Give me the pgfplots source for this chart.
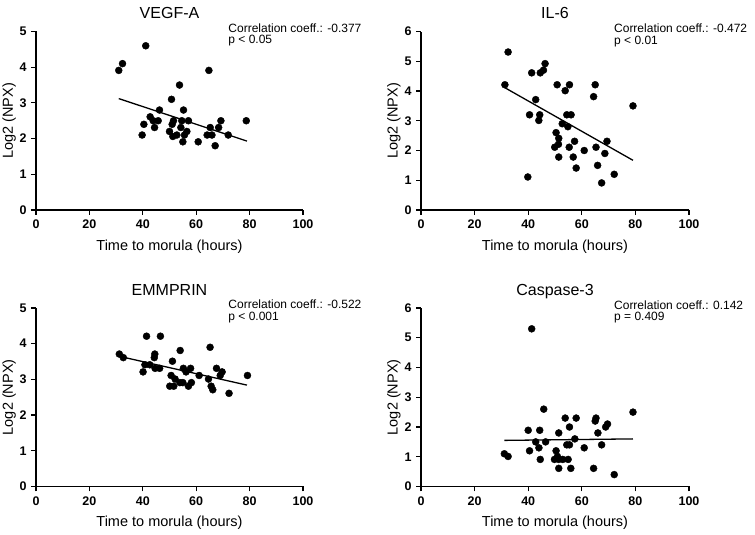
\documentclass[border=0pt]{standalone}
\usepackage{fontspec}
\setmainfont{Liberation Sans}
\usepackage{pgfplots}
\pgfplotsset{compat=1.18}

\pgfplotsset{
  panel/.style={
    scale only axis,
    anchor=origin,
    width=267pt, height=178.5pt,
    axis lines=left,
    axis line style={-, line width=1.3pt},
    xmin=0, xmax=100, ymin=0,
    xtick={0,20,...,100},
    tick align=outside,
    major tick length=5pt,
    tick style={line width=1.2pt, black},
    /pgf/number format/assume math mode=true,
    xticklabel={\textbf{\pgfmathprintnumber{\tick}}},
    yticklabel={\textbf{\pgfmathprintnumber{\tick}}},
    tick label style={font=\fontsize{12.5}{12.5}\selectfont},
    xticklabel style={yshift=-1.5pt},
    yticklabel style={xshift=-1pt},
    xlabel={Time to morula (hours)},
    ylabel={Log2 (NPX)},
    label style={font=\fontsize{14.5}{14.5}\selectfont},
    xlabel style={at={(axis description cs:0.5,-0.205)}, anchor=center},
    ylabel style={at={(axis description cs:-0.101,0.5)}, anchor=center},
    clip=false,
  },
  dots/.style={only marks, mark=*, mark size=3.5pt, black},
  fit/.style={black, line width=1.3pt, no marks},
}
\newcommand{\stat}[3]{%
  \node[anchor=base, inner sep=0pt, font=\fontsize{16}{16}\selectfont] at (rel axis cs:0.5,1) [yshift=12.7pt] {#1};
  \node[anchor=base west, inner sep=0pt, font=\fontsize{12}{12}\selectfont] at (rel axis cs:0.72,1) [yshift=-1pt] {#2};
  \node[anchor=base west, inner sep=0pt, font=\fontsize{12}{12}\selectfont] at (rel axis cs:0.72,1) [yshift=-12.5pt] {#3};
}

\begin{document}
\begin{tikzpicture}
\path[use as bounding box] (0,0) rectangle (755pt,535pt);

% VEGF-A
\begin{axis}[panel, at={(36pt,325pt)}, ymax=5, ytick={0,...,5}]
\addplot[dots] coordinates {
(31.0,3.91)(32.4,4.10)(41.1,4.60)(64.75,3.91)(53.75,3.50)(50.75,3.10)
(46.25,2.80)(55.25,2.80)(42.75,2.61)(40.4,2.40)(44.4,2.31)(45.75,2.50)
(43.9,2.50)(39.75,2.10)(50.0,2.20)(51.0,2.40)(51.5,2.50)(51.25,2.06)
(52.75,2.10)(54.6,2.50)(54.25,2.31)(57.1,2.50)(56.5,2.20)(55.6,2.10)
(55.0,1.91)(60.75,1.91)(64.1,2.10)(65.9,2.10)(65.25,2.31)(67.1,1.80)
(68.4,2.31)(69.25,2.50)(72.0,2.10)(78.75,2.50)};
\addplot[fit] coordinates {(31,3.12)(79,1.93)};
\stat{VEGF-A}{Correlation coeff.: -0.377}{p < 0.05}
\end{axis}

% IL-6
\begin{axis}[panel, at={(421pt,325pt)}, width=268pt, ymax=6, ytick={0,...,6}]
\addplot[dots] coordinates {
(32.5,5.31)(31.3,4.21)(41.3,4.61)(44.5,4.61)(45.7,4.70)(46.3,4.92)
(50.8,4.21)(55.4,4.21)(53.8,4.01)(65.0,4.21)(64.4,3.81)(42.8,3.71)
(79.1,3.50)(40.5,3.20)(44.3,3.20)(43.96,3.01)(54.4,3.20)(56.0,3.20)
(52.7,2.90)(54.8,2.80)(50.4,2.60)(51.4,2.41)(51.3,2.21)(49.9,2.11)
(55.3,2.11)(57.3,2.31)(60.9,2.00)(65.3,2.11)(69.4,2.31)(68.6,1.90)
(51.4,1.78)(56.8,1.78)(57.9,1.41)(65.9,1.50)(72.1,1.20)(67.4,0.91)
(39.85,1.11)};
\addplot[fit] coordinates {(31.3,4.11)(79.1,1.67)};
\stat{IL-6}{Correlation coeff.: -0.472}{p < 0.01}
\end{axis}

% EMMPRIN
\begin{axis}[panel, at={(36pt,48.5pt)}, ymax=5, ytick={0,...,5}]
\addplot[dots] coordinates {
(41.4,4.21)(46.6,4.21)(65.2,3.90)(54.0,3.81)(31.2,3.71)(32.7,3.61)
(44.5,3.71)(44.3,3.61)(51.1,3.51)(40.8,3.41)(42.6,3.41)(44.6,3.31)
(46.3,3.31)(40.1,3.21)(55.2,3.31)(56.2,3.21)(57.9,3.31)(67.6,3.31)
(69.7,3.21)(69.0,3.11)(61.1,3.11)(50.6,3.11)(52.1,3.01)(53.9,2.91)
(55.0,2.91)(58.2,2.91)(57.1,2.81)(50.1,2.81)(51.6,2.81)(64.6,3.01)
(65.6,2.81)(66.2,2.71)(72.3,2.61)(79.2,3.11)};
\addplot[fit] coordinates {(31,3.65)(79,2.84)};
\stat{EMMPRIN}{Correlation coeff.: -0.522}{p < 0.001}
\end{axis}

% Caspase-3
\begin{axis}[panel, at={(421pt,48.5pt)}, width=268pt, ymax=6, ytick={0,...,6}]
\addplot[dots] coordinates {
(41.3,5.30)(45.8,2.60)(79.1,2.50)(53.8,2.30)(57.9,2.30)(65.3,2.30)
(65.0,2.20)(69.6,2.10)(68.9,2.00)(55.4,2.00)(40.0,1.89)(44.3,1.89)
(51.4,1.80)(66.0,1.80)(57.4,1.60)(42.8,1.50)(46.5,1.50)(54.4,1.40)
(55.4,1.40)(67.4,1.40)(44.0,1.30)(60.9,1.30)(40.5,1.20)(50.4,1.20)
(31.1,1.10)(32.5,1.01)(50.9,1.01)(49.8,0.91)(51.4,0.91)(52.9,0.91)
(54.9,0.91)(44.5,0.91)(51.4,0.61)(55.9,0.61)(64.4,0.61)(72.1,0.40)};
\addplot[fit] coordinates {(31.1,1.55)(79.1,1.60)};
\stat{Caspase-3}{Correlation coeff.: 0.142}{p = 0.409}
\end{axis}
\end{tikzpicture}
\end{document}
